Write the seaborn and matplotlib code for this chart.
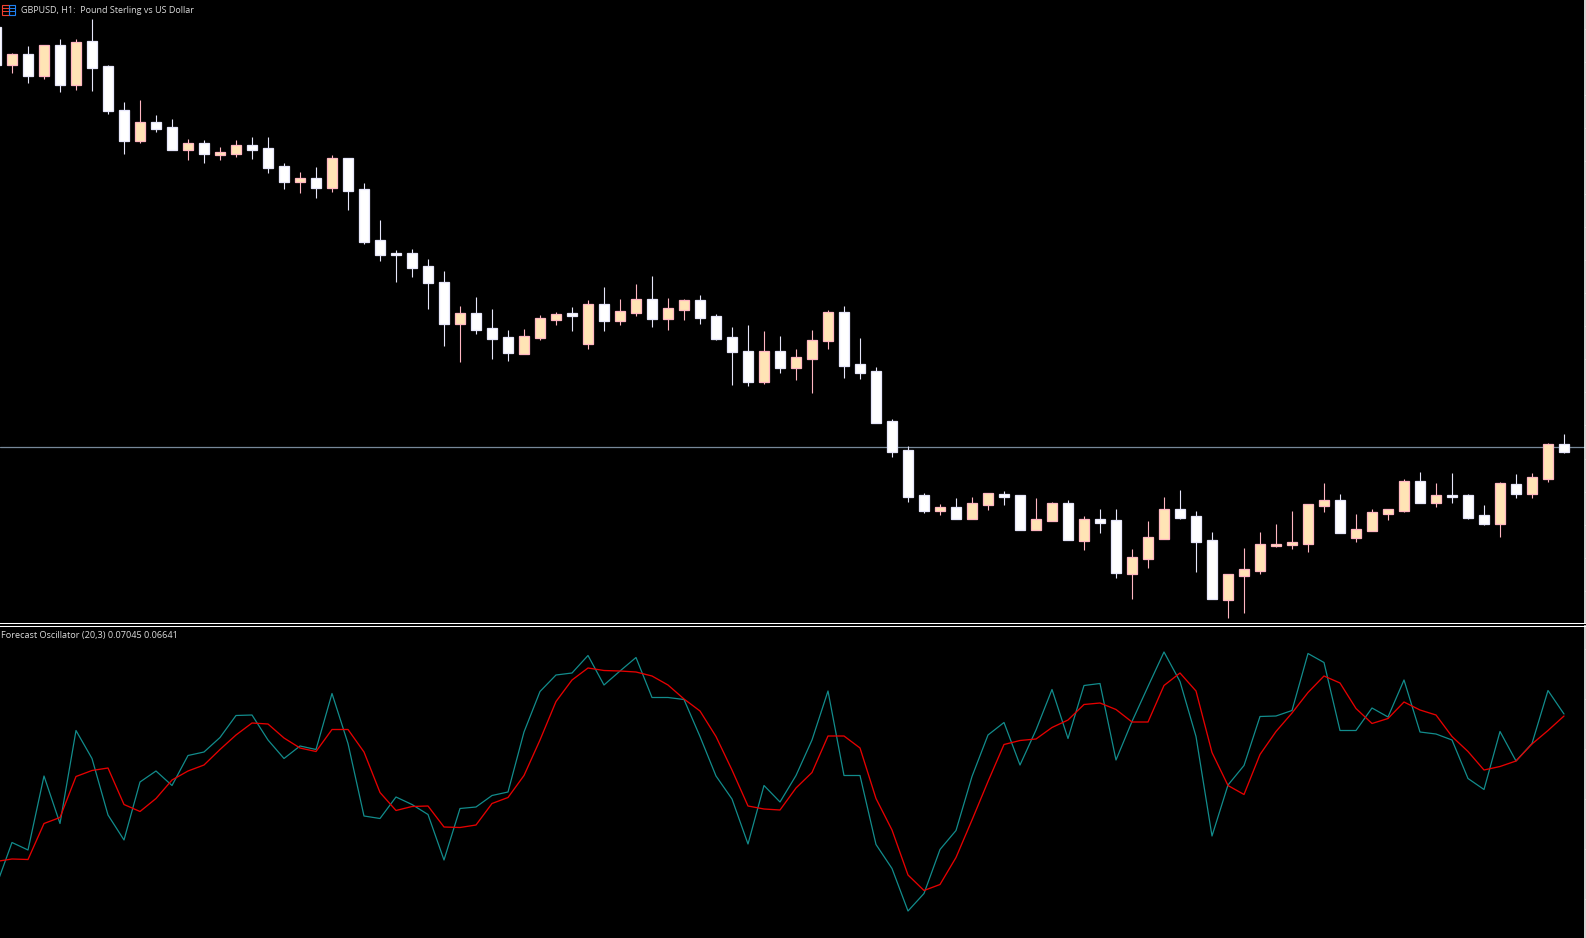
import numpy as np
import pandas as pd
import seaborn as sns
import matplotlib.pyplot as plt
from matplotlib.patches import Rectangle

# GBPUSD H1 candles, heights in points above the bottom of the price pane
opens = [594, 556, 567, 545, 576, 536, 580, 555, 511, 480, 499, 494, 471, 478, 466, 467, 476, 473, 455, 439,
         443, 433, 463, 433, 382, 369, 369, 356, 340, 298, 309, 294, 285, 268, 284, 302, 309, 278, 318, 301,
         309, 323, 303, 312, 322, 306, 285, 271, 240, 271, 254, 263, 281, 310, 258, 251, 201, 172, 127, 111,
         115, 103, 117, 128, 127, 92, 101, 119, 81, 103, 102, 48, 63, 83, 113, 106, 82, 22, 46, 51,
         76, 77, 78, 116, 122, 84, 91, 108, 111, 141, 119, 127, 127, 107, 98, 138, 128, 143, 178]
highs = [594, 568, 575, 576, 582, 582, 602, 556, 519, 521, 506, 502, 482, 481, 474, 481, 484, 484, 458, 449,
         454, 466, 463, 438, 401, 371, 372, 362, 350, 315, 324, 312, 291, 292, 306, 309, 314, 321, 334, 322,
         337, 345, 323, 322, 326, 307, 294, 296, 290, 285, 272, 291, 311, 315, 283, 254, 202, 176, 129, 118,
         124, 125, 129, 131, 127, 124, 120, 122, 106, 113, 113, 73, 101, 125, 132, 111, 90, 48, 74, 90,
         98, 111, 118, 139, 128, 108, 113, 113, 143, 150, 139, 149, 128, 117, 140, 148, 149, 179, 188]
lows = [556, 548, 538, 542, 529, 531, 530, 507, 467, 478, 489, 471, 461, 458, 461, 464, 462, 448, 432, 428,
        423, 429, 411, 377, 360, 339, 344, 312, 275, 259, 287, 262, 260, 267, 281, 296, 290, 272, 290, 296,
        305, 294, 291, 301, 297, 281, 236, 235, 237, 248, 241, 228, 272, 243, 242, 199, 165, 120, 109, 107,
        103, 103, 112, 117, 92, 92, 101, 82, 72, 89, 44, 23, 54, 83, 103, 50, 23, 4, 9, 48,
        75, 73, 70, 110, 89, 80, 91, 102, 110, 119, 115, 119, 103, 97, 85, 124, 124, 140, 169]
closes = [556, 567, 545, 576, 536, 579, 553, 510, 480, 499, 492, 471, 478, 467, 469, 476, 471, 453, 439, 443,
          433, 463, 430, 380, 367, 367, 354, 339, 298, 309, 292, 283, 269, 286, 304, 308, 306, 318, 301, 311,
          323, 303, 314, 322, 304, 283, 270, 240, 271, 254, 265, 282, 310, 256, 249, 199, 170, 125, 111, 115,
          103, 119, 129, 125, 92, 103, 119, 82, 103, 99, 49, 65, 85, 113, 104, 80, 23, 48, 53, 78,
          78, 80, 118, 122, 89, 93, 110, 113, 141, 119, 127, 125, 104, 98, 139, 128, 145, 178, 170]
current_price = 174.7

# Forecast Oscillator (20,3), both lines in thousandths
forecast = [-275, -187, -202, -54, -149, 37, -19, -132, -182, -66, -44, -73, -13, -6, 23, 67, 68, 18, -19, 6,
            -1, 111, 11, -134, -139, -96, -111, -131, -222, -119, -116, -93, -86, 34, 115, 148, 152, 187, 128, 156,
            183, 103, 103, 99, 25, -54, -100, -190, -73, -106, -53, 18, 116, -53, -53, -191, -239, -324, -289, -201,
            -163, -55, 28, 53, -32, 38, 119, 21, 127, 131, -22, 55, 125, 194, 135, 25, -174, -72, -33, 65,
            66, 77, 191, 173, 37, 37, 82, 64, 138, 34, 30, 18, -59, -81, 35, -24, 11, 117, 70]
signal = [-225, -220, -221, -149, -137, -55, -43, -38, -111, -125, -99, -62, -44, -32, -1, 28, 52, 50, 22, 2,
          -5, 39, 39, -6, -87, -123, -115, -114, -156, -157, -152, -109, -97, -53, 18, 95, 138, 162, 157, 156,
          154, 146, 128, 100, 76, 25, -42, -114, -120, -122, -78, -47, 26, 26, 2, -99, -162, -252, -283, -271,
          -217, -142, -65, 9, 17, 20, 43, 58, 89, 92, 79, 54, 54, 127, 152, 116, -7, -73, -91, -11,
          35, 72, 113, 146, 132, 81, 51, 61, 94, 78, 68, 25, -5, -42, -35, -24, 10, 37, 66]

title_text = "GBPUSD, H1:  Pound Sterling vs US Dollar"
osc_text = "Forecast Oscillator (20,3) 0.07045 0.06641"

W, H = 1586, 938
sns.set_theme(style="dark", rc={"figure.facecolor": "black", "axes.facecolor": "black",
                                "axes.edgecolor": "white", "font.family": ["Open Sans", "DejaVu Sans"]})

fig = plt.figure(figsize=(W / 100, H / 100), dpi=100)
ax1 = fig.add_axes([0, 1 - 623 / H, 1585 / W, 623 / H])
ax2 = fig.add_axes([0, 0, 1585 / W, (H - 626) / H])

df = pd.DataFrame({"bar": np.arange(len(opens)), "open": opens, "high": highs, "low": lows, "close": closes,
                   "forecast": np.array(forecast) / 1000, "signal": np.array(signal) / 1000})
df["up"] = df["close"] > df["open"]

# price pane
ax1.axhline(current_price, color="#778899", lw=0.9, zorder=1)
for is_up, body, edge in [(True, "#FFE4B5", "#FFB6C1"), (False, "#FFFFFF", "#E6E6FA")]:
    part = df[df["up"] == is_up]
    ax1.vlines(part["bar"], part["low"], part["high"], color=edge, lw=0.8, zorder=2)
    ax1.bar(part["bar"], (part["close"] - part["open"]).abs(), bottom=part[["open", "close"]].min(axis=1),
            width=0.65, color=body, edgecolor=edge, linewidth=0.9, zorder=3)

# oscillator pane
sns.lineplot(data=df, x="bar", y="forecast", ax=ax2, color="#128C8C", linewidth=0.9, legend=False)
sns.lineplot(data=df, x="bar", y="signal", ax=ax2, color="#E60000", linewidth=0.95, legend=False)

for ax in [ax1, ax2]:
    ax.set_xlim(4.0 / 16, 1589.0 / 16)
    ax.set_xlabel("")
    ax.set_ylabel("")
    ax.set_xticks([])
    ax.grid(False)
    for side in ["left", "bottom", "top", "right"]:
        ax.spines[side].set_visible(False)
    ax.spines["right"].set_visible(True)
    ax.spines["right"].set_color("white")
    ax.spines["right"].set_linewidth(1.2)
    ax.yaxis.tick_right()
    ax.tick_params(axis="y", length=1, width=0.7, color="white", labelright=False, labelleft=False)

ax1.set_ylim(-1.5, 621.5)
ax1.set_yticks(np.arange(31, 621, 33))
ax1.spines["bottom"].set_visible(True)
ax1.spines["bottom"].set_color("white")
ax1.spines["bottom"].set_linewidth(0.75)

ax2.set_ylim(-0.378, 0.246)
ax2.set_yticks([-0.3, -0.2, -0.1, 0, 0.1, 0.2])
ax2.spines["top"].set_visible(True)
ax2.spines["top"].set_color("white")
ax2.spines["top"].set_linewidth(0.75)

# header texts
fig.text(21 / W, 1 - 10.8 / H, title_text, color="#DCDCDC", fontsize=6.5, va="center", ha="left")
fig.text(1 / W, 1 - 635.5 / H, osc_text, color="#DCDCDC", fontsize=6.6, va="center", ha="left")

# little symbol icon next to the title
for x0, col in [(2, "#F04030"), (8.5, "#2080F0")]:
    fig.add_artist(Rectangle((x0 / W, 1 - 15 / H), 6.5 / W, 10 / H, transform=fig.transFigure,
                             fill=False, edgecolor=col, linewidth=0.8))
    for yy in [8, 11]:
        fig.add_artist(plt.Line2D([x0 / W, (x0 + 6.5) / W], [1 - yy / H, 1 - yy / H],
                                  transform=fig.transFigure, color=col, linewidth=0.7))

fig.savefig("out.png", dpi=100, facecolor="black")
